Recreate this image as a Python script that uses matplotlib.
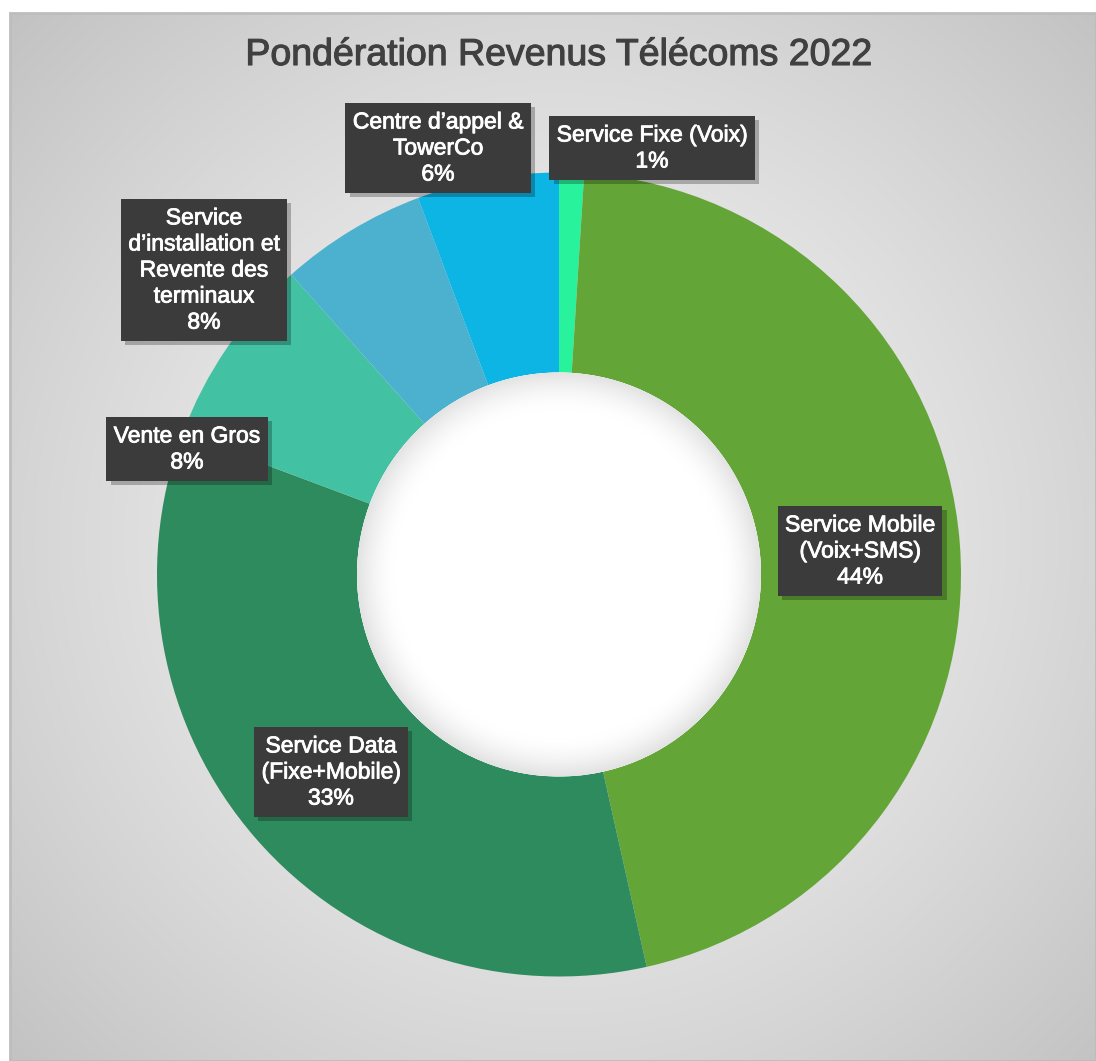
import numpy as np
import matplotlib
matplotlib.use("Agg")
import matplotlib.pyplot as plt
from matplotlib.patches import Circle, Rectangle
import matplotlib.patheffects as pe

plt.rcParams['font.family'] = ['Liberation Sans', 'DejaVu Sans']

# segments, clockwise from the top
categories = ['Service Fixe (Voix)', 'Service Mobile\n(Voix+SMS)', 'Service Data\n(Fixe+Mobile)',
              'Vente en Gros', 'Service\nd\u2019installation et\nRevente des\nterminaux',
              'Centre d\u2019appel &\nTowerCo']
shares = [1.0, 45.5, 34.2, 7.7, 5.9, 5.7]          # slice sizes read from the ring
pct_labels = ['1%', '44%', '33%', '8%', '8%', '6%']  # percentages printed on the chart
colors = ['#28F29B', '#64A538', '#2E8B5E', '#43C1A3', '#4CB1CF', '#0DB5E5']

W, H = 1096, 1061
fig = plt.figure(figsize=(W / 100, H / 100), dpi=100)
fig.patch.set_facecolor('white')
ax = fig.add_axes([0, 0, 1, 1])

# radial gray background inside the frame
fx0, fx1, fy0, fy1 = 10, W, 0, H - 13
xx, yy = np.meshgrid(np.linspace(fx0, fx1, 400), np.linspace(fy0, fy1, 400))
r = np.hypot(xx - 559, yy - 520) / 780
g = np.clip(0.965 - 0.21 * r ** 1.3, 0, 1)
ax.imshow(np.dstack([g, g, g]), extent=(fx0, fx1, fy0, fy1), origin='lower',
          zorder=0, interpolation='bilinear')
ax.add_patch(Rectangle((fx0, fy0), fx1 - fx0, fy1 - fy0, fill=False,
                       ec='#bdbdbd', lw=2, zorder=1))

cx, cy, R = 559, H - 574.5, 402
ax.pie(shares, colors=colors, startangle=90, counterclock=False,
       center=(cx, cy), radius=R,
       wedgeprops=dict(width=R - 202, linewidth=0, zorder=2))

# hole with a soft inner shadow
hole = Circle((cx, cy), 202, fc='white', ec='none', zorder=3)
ax.add_patch(hole)
hx, hy = np.meshgrid(np.linspace(cx - 202, cx + 202, 300), np.linspace(cy - 202, cy + 202, 300))
d = np.hypot(hx - cx, hy - cy)
s = np.clip((d - 165) / 37, 0, 1) ** 1.6
hg = 1 - 0.11 * s
im = ax.imshow(np.dstack([hg, hg, hg]), extent=(cx - 202, cx + 202, cy - 202, cy + 202),
               origin='lower', zorder=4, interpolation='bilinear')
im.set_clip_path(hole)

# data labels
label_pos = [(652, 913), (860, 510), (331, 289), (187, 612), (204, 791), (438, 913)]
for name, pct, (lx, ly) in zip(categories, pct_labels, label_pos):
    t = ax.text(lx, ly, name + '\n' + pct, ha='center', va='center', color='white',
                fontsize=16.5, linespacing=1.17, zorder=6,
                bbox=dict(boxstyle='square,pad=0.32', fc='#3b3b3b', ec='none'))
    t.set_path_effects([pe.withStroke(linewidth=0.6, foreground='white')])
    t.get_bbox_patch().set_path_effects([
        pe.SimplePatchShadow(offset=(3, -3), shadow_rgbFace='#000000', alpha=0.25),
        pe.Normal()])

title = ax.text(559, H - 55, 'Pondération Revenus Télécoms 2022', ha='center', va='center',
                fontsize=27, color='#404040', zorder=6)
title.set_path_effects([pe.withStroke(linewidth=0.8, foreground='#404040')])

ax.set_xlim(0, W)
ax.set_ylim(0, H)
ax.set_aspect('auto')
ax.axis('off')

fig.savefig('out.png', dpi=100)
